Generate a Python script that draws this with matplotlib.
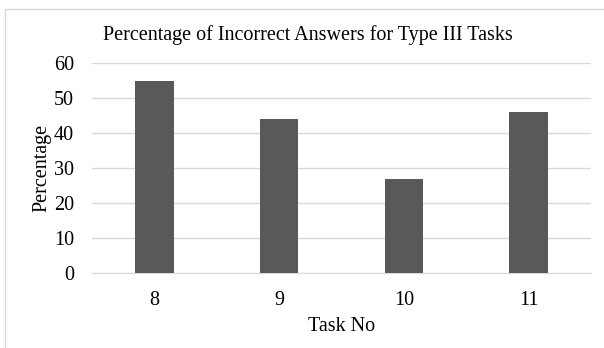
import matplotlib.pyplot as plt
from matplotlib.patches import Rectangle

tasks = ["8", "9", "10", "11"]
pct_incorrect = [55, 44, 27, 46]
y_ticks = [0, 10, 20, 30, 40, 50, 60]

plt.rcParams['font.family'] = ['Liberation Serif', 'DejaVu Serif']

W, H = 604, 348
fig = plt.figure(figsize=(W / 100, H / 100), dpi=100)
fig.patch.set_facecolor('white')

# chart area frame (only top and left edges fall inside the canvas)
fig.patches.append(Rectangle((5 / W, -0.1), 1.2, (H - 9) / H + 0.1, transform=fig.transFigure,
                             fill=False, edgecolor='#d9d9d9', linewidth=1.0))

ax = fig.add_axes([92 / W, (H - 273) / H, (591 - 92) / W, (273 - 63) / H])
x = range(len(tasks))
ax.bar(x, pct_incorrect, width=0.31, color='#595959', zorder=3)
ax.set_xlim(-0.5, len(tasks) - 0.5)
ax.set_ylim(0, 60)
ax.set_yticks(y_ticks)
ax.set_xticks(list(x))
ax.set_xticklabels(tasks)
ax.grid(axis='y', color='#d9d9d9', linewidth=1.0, zorder=0)
for s in ['top', 'right', 'left']:
    ax.spines[s].set_visible(False)
ax.spines['bottom'].set_color('#d9d9d9')
ax.tick_params(axis='both', length=0, labelsize=14.5, colors='#000000')
ax.tick_params(axis='x', pad=13)
ax.tick_params(axis='y', pad=13)
ax.set_xlabel('Task No', fontsize=14.5, labelpad=5)
ax.set_ylabel('Percentage', fontsize=14.5, labelpad=2)

fig.text(307.5 / W, 1 - 35 / H, 'Percentage of Incorrect Answers for Type III Tasks',
         ha='center', va='center', fontsize=14.5)

fig.savefig('out.png', dpi=100)
